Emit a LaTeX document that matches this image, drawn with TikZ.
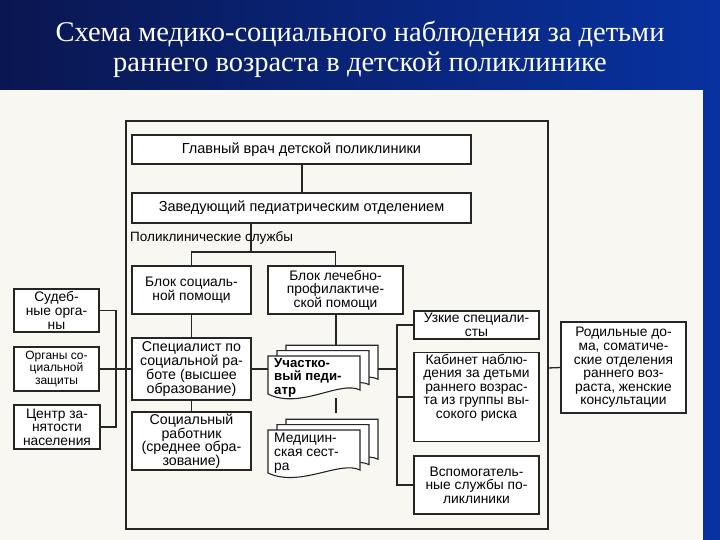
\documentclass[tikz,border=0pt]{standalone}
\usepackage{fontspec}
\setmainfont{Liberation Serif}
\newfontfamily\ar{Liberation Sans}
\definecolor{bgL}{RGB}{10,22,80}
\definecolor{bgR}{RGB}{8,50,160}
\definecolor{paper}{RGB}{249,247,241}
\begin{document}
\begin{tikzpicture}[x=1pt,y=-1pt,
  box/.style={draw=black!85,line width=1.1pt,fill=white,inner sep=1pt,align=center,font=\ar\fontsize{13.8}{13.6}\selectfont},
  ln/.style={draw=black!85,line width=1.3pt},
  docb/.style={draw=black!85,line width=1.1pt,fill=white}]
\useasboundingbox (0,0) rectangle (720,540);
\shade[left color=bgL,right color=bgR] (0,0) rectangle (720,540);
\node[text=white,font=\fontsize{28.5}{30}\selectfont,align=center] (title) at (360,49) {Схема медико-социального наблюдения за детьми\\раннего возраста в детской поликлинике};
\fill[paper] (0,90) rectangle (703,540);
\draw[ln] (126,121) rectangle (548,529);
% nodes
\node[box,minimum width=339pt,minimum height=29pt,font=\ar\fontsize{14.5}{14.5}\selectfont] (glav) at (301.5,149.5) {Главный врач детской поликлиники};
\node[box,minimum width=339pt,minimum height=30pt,font=\ar\fontsize{14.5}{14.5}\selectfont] (zav) at (301.5,208) {Заведующий педиатрическим отделением};
\node[font=\ar\fontsize{13.5}{14}\selectfont,anchor=west,inner sep=0] (pol) at (130,238) {Поликлинические службы};
\coordinate (br) at (251,252);
\node[box,minimum width=119pt,minimum height=48pt] (bsoc) at (191.5,290) {Блок социаль-\\ной помощи};
\node[box,minimum width=135pt,minimum height=48pt] (blech) at (335.5,290) {Блок лечебно-\\профилактиче-\\ской помощи};
\node[box,minimum width=85pt,minimum height=43pt] (sud) at (56.5,310.5) {Судеб-\\ные орга-\\ны};
\node[box,minimum width=85pt,minimum height=44pt,font=\ar\fontsize{12}{12.5}\selectfont] (org) at (56.5,369) {Органы со-\\циальной\\защиты};
\node[box,minimum width=86pt,minimum height=44pt] (centr) at (57,427) {Центр за-\\нятости\\населения};
\node[box,minimum width=119pt,minimum height=62pt,font=\ar\fontsize{14.2}{14.2}\selectfont] (spec) at (191.5,369) {Специалист по\\социальной ра-\\боте (высшее\\образование)};
\node[box,minimum width=119pt,minimum height=58pt,font=\ar\fontsize{14.2}{13.6}\selectfont] (sotsr) at (191.5,441) {Социальный\\работник\\(среднее обра-\\зование)};
\node[box,minimum width=125pt,minimum height=28pt] (uzk) at (476.5,325) {Узкие специали-\\сты};
\node[box,minimum width=125pt,minimum height=88pt] (kab) at (476.5,397) {Кабинет наблю-\\дения за детьми\\раннего возрас-\\та из группы вы-\\сокого риска\\[8pt]};
\node[box,minimum width=125pt,minimum height=58pt] (vsp) at (476.5,485) {Вспомогатель-\\ные службы по-\\ликлиники};
\node[box,minimum width=125pt,minimum height=91pt] (rod) at (623.5,367.5) {Родильные до-\\ма, соматиче-\\ские отделения\\раннего воз-\\раста, женские\\консультации};
% documents
\foreach \s in {18,9,0}{
 \draw[docb] (268+\s,356-\s*0.6) -- (360+\s,356-\s*0.6) -- (360+\s,390-\s*0.6) .. controls (340+\s,380-\s*0.6) and (300+\s,410-\s*0.6) .. (268+\s,394-\s*0.6) -- cycle;
 \draw[docb] (268+\s,430-\s*0.6) -- (360+\s,430-\s*0.6) -- (360+\s,470-\s*0.6) .. controls (340+\s,460-\s*0.6) and (300+\s,488-\s*0.6) .. (268+\s,473-\s*0.6) -- cycle;
}
\node[font=\ar\bfseries\fontsize{13.2}{13.6}\selectfont,align=left,anchor=north west,inner sep=0] (ped) at (274,358) {Участко-\\вый педи-\\атр};
\node[font=\ar\fontsize{13.8}{13.8}\selectfont,align=left,anchor=north west,inner sep=0] (med) at (274,433) {Медицин-\\ская сест-\\ра};
\coordinate (pedtop) at (336,345);
\coordinate (pedbot) at (336,398);
\coordinate (medtop) at (336,413);
\coordinate (pedR) at (378,369);
\coordinate (pedL) at (268,369);
% connectors
\draw[ln] (302,164) -- (302,193);
\draw[ln] (zav.south -| br) -- (br);
\draw[ln] (bsoc.north) |- (br) -| (blech.north);
\draw[ln] (bsoc.south) -- (spec.north);
\draw[ln] (spec.south) -- (sotsr.north);
\draw[ln] (blech.south -| pedtop) -- (pedtop);
\draw[ln] (pedbot) -- (medtop);
\draw[ln] (spec.east) -- (pedL);
\draw[ln] (sud.east) -| (116,369) |- (centr.east);
\draw[ln] (org.east) -- (116,369) -- (spec.west);
\draw[ln] (pedR) -- (397,369);
\draw[ln] (uzk.west) -| (397,397) |- (vsp.west);
\draw[ln] (397,397) -- (kab.west);
\draw[ln] (548,368) -- (rod.west);
\end{tikzpicture}
\end{document}
